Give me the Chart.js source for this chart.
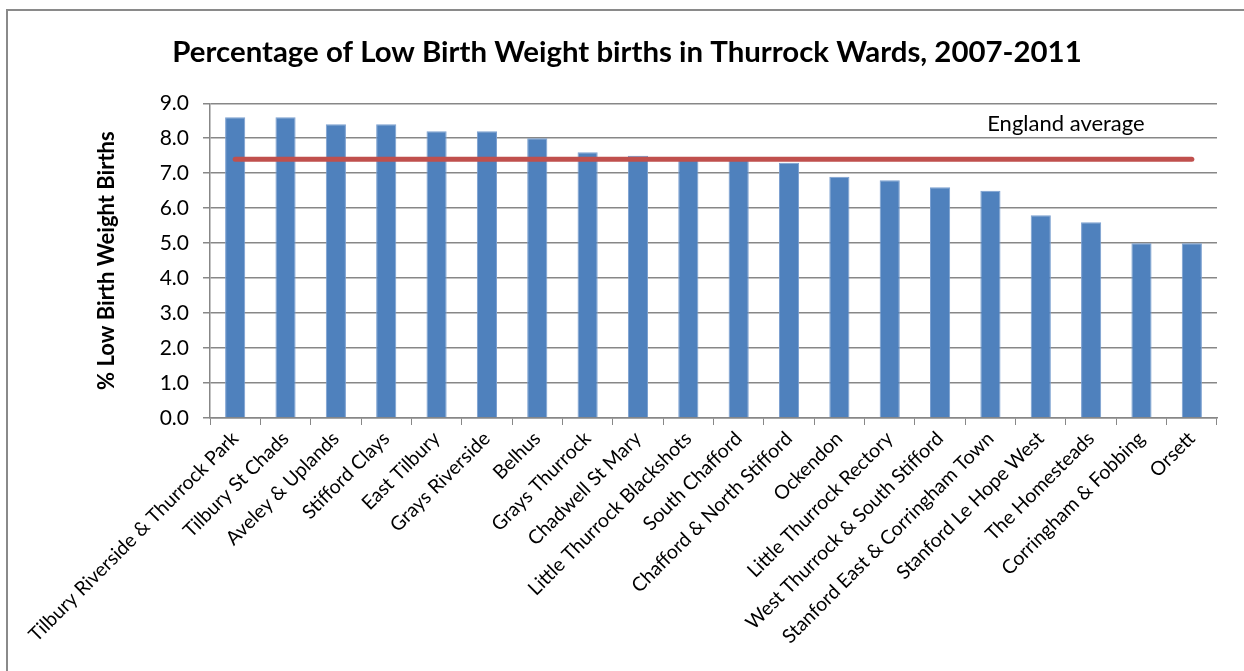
<!DOCTYPE html>
<html>
<head>
<meta charset="utf-8">
<script src="https://cdn.jsdelivr.net/npm/chart.js@4"></script>
<style>
  body { margin: 0; background: #fff; }
  canvas { display: block; }
</style>
</head>
<body>
<canvas id="lbwChart" width="1244" height="671"></canvas>
<script>
// Wards, ordered as in the chart
const wards = [
    'Tilbury Riverside & Thurrock Park', 'Tilbury St Chads', 'Aveley & Uplands',
    'Stifford Clays', 'East Tilbury', 'Grays Riverside', 'Belhus', 'Grays Thurrock',
    'Chadwell St Mary', 'Little Thurrock Blackshots', 'South Chafford',
    'Chafford & North Stifford', 'Ockendon', 'Little Thurrock Rectory',
    'West Thurrock & South Stifford', 'Stanford East & Corringham Town',
    'Stanford Le Hope West', 'The Homesteads', 'Corringham & Fobbing', 'Orsett'
];
// % low birth weight births, 2007-2011
const lbwPercent = [8.6, 8.6, 8.4, 8.4, 8.2, 8.2, 8.0, 7.6, 7.5, 7.4,
                    7.4, 7.3, 6.9, 6.8, 6.6, 6.5, 5.8, 5.6, 5.0, 5.0];
const englandAverage = 7.4;
const yTicks = [0, 1, 2, 3, 4, 5, 6, 7, 8, 9];

const fontFamily = 'Lato, "Open Sans", sans-serif';
const gridColor = '#878787';

// Marco gris del gráfico y etiqueta de la media
const decoPlugin = {
    id: 'deco',
    beforeDraw(chart) {
        const ctx = chart.ctx;
        ctx.save();
        ctx.strokeStyle = '#8a8a8a';
        ctx.lineWidth = 2;
        ctx.strokeRect(7, 10, 1260, 700);
        ctx.restore();
    },
    afterDatasetsDraw(chart) {
        const ctx = chart.ctx;
        const x = chart.scales.x.getPixelForValue(16.5);
        const y = chart.scales.y.getPixelForValue(8.42);
        ctx.save();
        ctx.font = '22px ' + fontFamily;
        ctx.fillStyle = '#000';
        ctx.textAlign = 'center';
        ctx.textBaseline = 'middle';
        ctx.fillText('England average', x, y);
        ctx.restore();
    }
};

new Chart(document.getElementById('lbwChart').getContext('2d'), {
    type: 'bar',
    data: {
        labels: wards,
        datasets: [{
            type: 'line',
            label: 'England average',
            data: wards.map(() => englandAverage),
            borderColor: '#C0504D',
            borderWidth: 5,
            borderCapStyle: 'round',
            pointRadius: 0,
            fill: false,
            order: 0
        }, {
            label: '% Low Birth Weight Births',
            data: lbwPercent,
            backgroundColor: '#4F81BD',
            borderColor: '#7A9FD0',
            borderWidth: 1,
            barPercentage: 0.4,
            categoryPercentage: 1.0,
            order: 1
        }]
    },
    options: {
        responsive: false,
        animation: false,
        layout: { padding: { top: 0, left: 37, right: 27, bottom: 0 } },
        plugins: {
            legend: { display: false },
            tooltip: { enabled: false },
            title: {
                display: true,
                text: 'Percentage of Low Birth Weight births in Thurrock Wards, 2007-2011',
                color: '#000',
                font: { family: fontFamily, size: 29.4, weight: 'bold' },
                padding: { top: 35, bottom: 33 }
            }
        },
        scales: {
            x: {
                grid: { display: true, drawOnChartArea: false, drawTicks: true, tickLength: 7, color: gridColor, offset: true },
                border: { display: true, color: gridColor, width: 1.5 },
                ticks: {
                    autoSkip: false,
                    minRotation: 45,
                    maxRotation: 45,
                    color: '#000',
                    padding: 2,
                    font: { family: fontFamily, size: 19.5 }
                },
                afterFit(scale) { scale.height = 253; }
            },
            y: {
                min: 0,
                max: 9,
                afterBuildTicks(scale) { scale.ticks = yTicks.map(v => ({ value: v })); },
                grid: { color: gridColor, lineWidth: 1.5, drawTicks: true, tickLength: 7 },
                border: { display: true, color: gridColor, width: 1.5 },
                ticks: {
                    color: '#000',
                    padding: 14,
                    font: { family: fontFamily, size: 21 },
                    callback: function(value) { return value.toFixed(1); }
                },
                title: {
                    display: true,
                    text: '% Low Birth Weight Births',
                    color: '#000',
                    font: { family: fontFamily, size: 22, weight: 'bold' },
                    padding: { top: 57, bottom: 0 }
                },
                afterFit(scale) { scale.width = 173; }
            }
        }
    },
    plugins: [decoPlugin]
});
</script>
</body>
</html>
